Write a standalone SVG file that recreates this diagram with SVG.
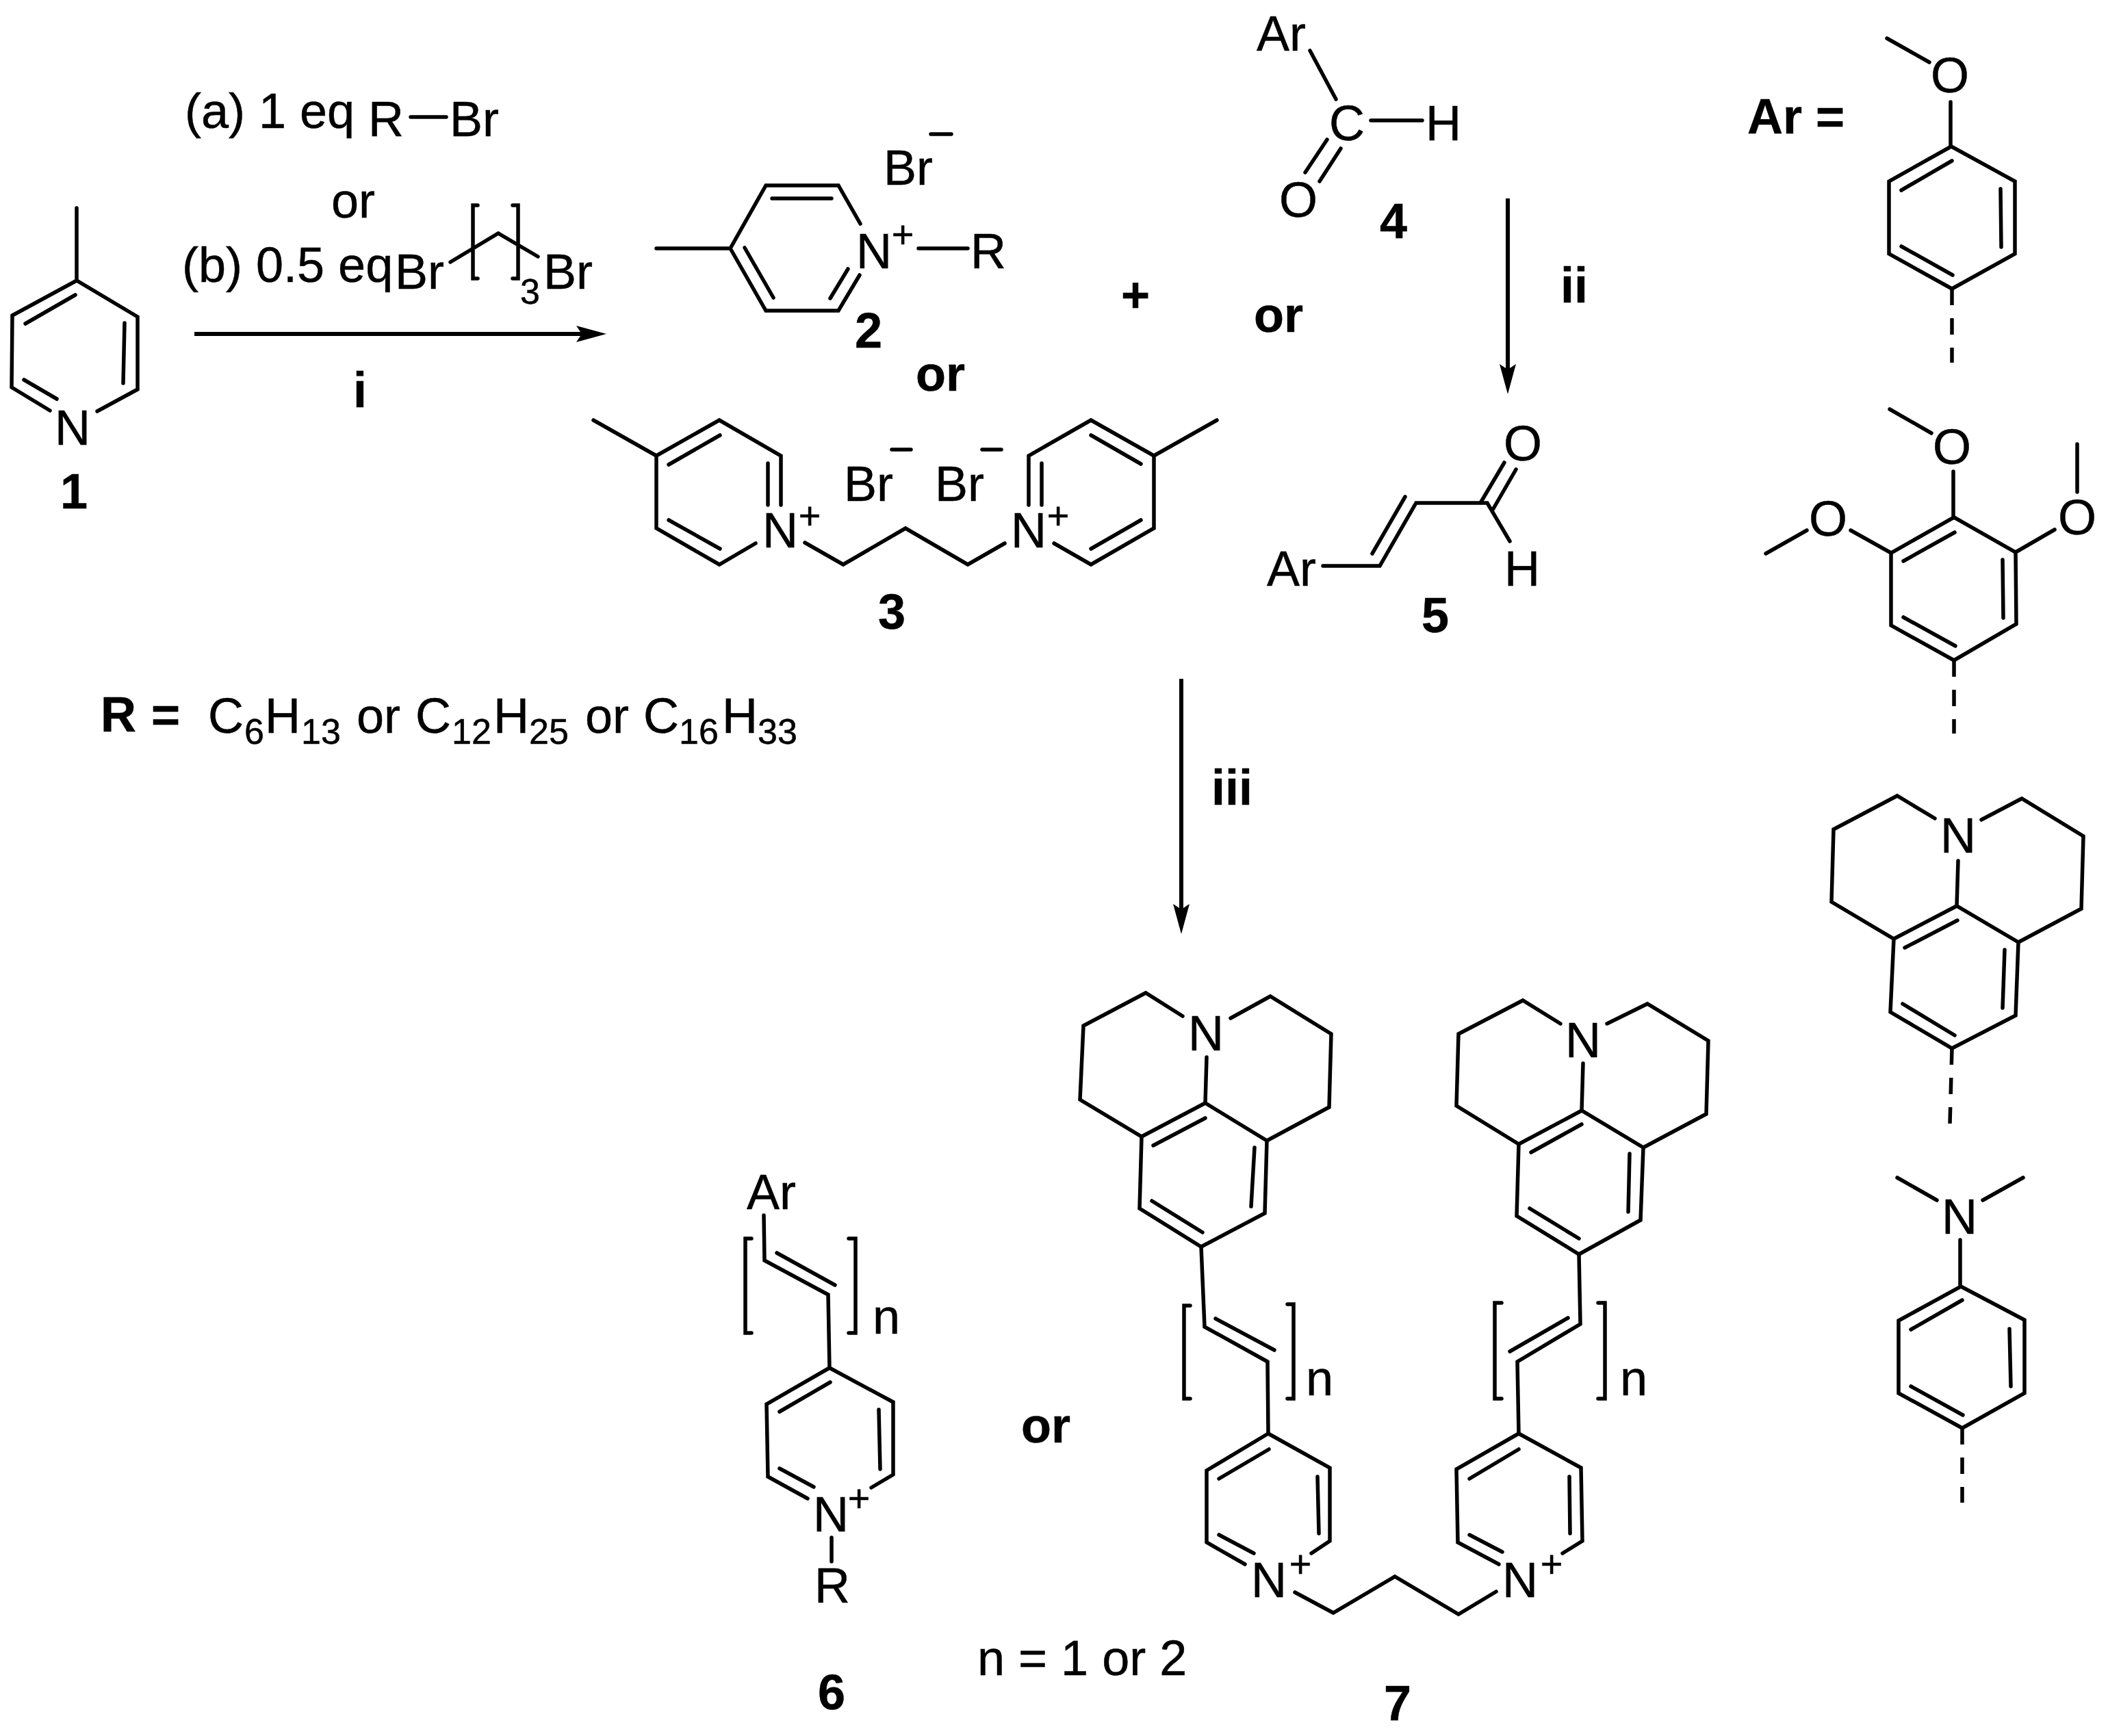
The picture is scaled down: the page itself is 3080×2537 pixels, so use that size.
<svg xmlns="http://www.w3.org/2000/svg" width="3080" height="2537" viewBox="0 0 3080 2537">
<style>
text{font-family:"Liberation Sans",Arial,sans-serif;font-size:72px;fill:#000;stroke:#000;stroke-width:.5}
.b{font-weight:bold}
.s{font-size:52px}
.p{font-size:56px;text-anchor:middle}
.m{text-anchor:middle}
path{fill:none;stroke:#000;stroke-width:5.5;stroke-linejoin:miter;stroke-linecap:round}
.d{stroke-dasharray:24 19;stroke-linecap:butt}
.a{stroke-width:6;stroke-linecap:butt;marker-end:url(#h)}
#h path{fill:#000;stroke:none}
</style>
<defs><marker id="h" viewBox="0 0 44 24" refX="8" refY="12" markerWidth="44" markerHeight="24" markerUnits="userSpaceOnUse" orient="auto"><path d="M44,12L0,0L8,12L0,24Z"/></marker></defs>
<rect width="3080" height="2537" fill="#fff"/>
<g id="connectors">
<path class="a" d="M284,488H850"/>
<path class="a" d="M2203,290V540"/>
<path class="a" d="M1726,992V1329"/>
</g>
<g id="compound-1">
<path d="M112,304V410M73,600L17,566L18,461L112,410L201,463V569L142,601M37,473L110,431M182,472L180,560M35,555L83,583"/>
<text x="80" y="650">N</text>
<text class="b m" x="108" y="743">1</text>
</g>
<g id="reagents">
<text x="270" y="187">(a) 1 eq</text>
<text x="538" y="199">R</text>
<path d="M600,171H652"/>
<text x="657" y="199">Br</text>
<text x="484" y="318">or</text>
<text x="266" y="412">(b) 0.5 eq</text>
<text x="577" y="422">Br</text>
<path d="M658,383L728,341L786,375M698,300H691V407H698M749,300H757V407H749"/>
<text class="s" x="760" y="444">3</text>
<text x="794" y="422">Br</text>
<text class="b m" x="526" y="595">i</text>
</g>
<g id="compound-2">
<path d="M959,363H1067L1119,271H1225L1257,327M1256,402L1225,454H1119L1067,363M1128,290H1215M1088,362L1130,435M1239,393L1213,436M1342,363H1414M1360,196H1390"/>
<text x="1251" y="392">N</text>
<text class="p" x="1319" y="362">+</text>
<text x="1418" y="392">R</text>
<text x="1291" y="270">Br</text>
<text class="b m" x="1269" y="508">2</text>
</g>
<text class="b m" x="1374" y="571">or</text>
<text class="b m" x="1659" y="456">+</text>
<text class="b m" x="1868" y="485">or</text>
<g id="compound-3">
<path d="M867,614L959,666L1051,614L1141,666V738M1104,794L1051,825L959,772V666M977,679L1052,636M1122,677V738M977,760L1052,802"/>
<path d="M1176,793L1232,825L1323,772L1414,825L1468,794"/>
<path d="M1503,738V666L1594,614L1686,666L1778,614M1686,666V772L1594,825L1540,794M1522,677V738M1594,636L1667,678M1594,802L1667,760"/>
<path d="M1303,657H1331M1435,657H1463"/>
<text x="1114" y="800">N</text>
<text class="p" x="1183" y="773">+</text>
<text x="1477" y="800">N</text>
<text class="p" x="1546" y="773">+</text>
<text x="1233" y="732">Br</text>
<text x="1366" y="732">Br</text>
<text class="b m" x="1303" y="919">3</text>
</g>
<g id="compound-4">
<text x="1836" y="74">Ar</text>
<path d="M1914,74L1952,145M2003,176H2078M1939,204L1907,252M1959,217L1928,265"/>
<text x="1942" y="205">C</text>
<text x="2083" y="205">H</text>
<text class="m" x="1897" y="317">O</text>
<text class="b m" x="2036" y="348">4</text>
</g>
<text class="b m" x="2300" y="442">ii</text>
<g id="compound-5">
<text x="1851" y="856">Ar</text>
<path d="M1933,827H2016L2069,735H2173L2206,791M2005,809L2053,726M2163,735L2198,676M2181,745L2215,686"/>
<text class="m" x="2225" y="673">O</text>
<text x="2198" y="856">H</text>
<text class="b m" x="2097" y="924">5</text>
</g>
<text class="b m" x="1800" y="1176">iii</text>
<g id="r-definition">
<text class="b" x="147" y="1069">R<tspan x="221">=</tspan></text>
<text y="1071"><tspan x="304">C</tspan><tspan class="s" x="357" y="1087">6</tspan><tspan x="387" y="1071">H</tspan><tspan class="s" x="440" y="1087">13</tspan><tspan x="521" y="1071">or</tspan><tspan x="607">C</tspan><tspan class="s" x="660" y="1087">12</tspan><tspan x="721" y="1071">H</tspan><tspan class="s" x="773" y="1087">25</tspan><tspan x="855" y="1071">or</tspan><tspan x="940">C</tspan><tspan class="s" x="992" y="1087">16</tspan><tspan x="1055" y="1071">H</tspan><tspan class="s" x="1107" y="1087">33</tspan></text>
</g>
<g id="ar-definition">
<text class="b" x="2553" y="195">Ar =</text>
</g>
<g id="ar-methoxy">
<path d="M2757,56L2819,91M2850,149V214"/>
<text class="m" x="2849" y="135">O</text>
<path d="M2851,214L2944,265V371L2852,422L2760,371V265ZM2778,278L2852,235M2923,276L2924,361M2778,360L2853,402"/>
<path class="d" d="M2852,422V530"/>
</g>
<g id="ar-trimethoxy">
<path d="M2761,598L2822,633M2854,689V756M2855,756L2945,807L2946,912L2855,965L2763,914V808ZM2781,820L2856,778M2926,818L2927,903M2781,902L2857,944M2704,775L2763,808M2580,809L2640,775M2945,807L3002,774M3035,649V719"/>
<text class="m" x="2852" y="678">O</text>
<text class="m" x="2671" y="783">O</text>
<text class="m" x="3035" y="781">O</text>
<path class="d" d="M2855,965V1072"/>
</g>
<g id="ar-julolidine">
<text class="m" x="2861" y="1246">N</text>
<path d="M2827,1196L2772,1163L2679,1212L2676,1318L2767,1372L2859,1324L2949,1377L2945,1484L2852,1532L2762,1479L2767,1372M2861,1258L2859,1324M2895,1198L2954,1167L3044,1222L3041,1328L2949,1377M2783,1385L2860,1345M2929,1388L2926,1473M2780,1467L2856,1513"/>
<path class="d" d="M2852,1532L2849,1642"/>
</g>
<g id="ar-dimethylaniline">
<text class="m" x="2863" y="1803">N</text>
<path d="M2772,1721L2830,1754M2897,1754L2956,1721M2864,1812V1880M2865,1880L2958,1929V2036L2867,2087L2774,2036V1930ZM2792,1943L2867,1900M2936,1942L2938,2026M2792,2026L2868,2068"/>
<path class="d" d="M2867,2087V2196"/>
</g>
<g id="compound-6">
<text x="1091" y="1767">Ar</text>
<path d="M1116,1776L1117,1842L1210,1892L1212,1999L1305,2049V2155L1273,2174M1212,1999L1120,2052L1122,2158L1180,2190M1135,1831L1220,1878M1139,2063L1213,2020M1284,2060L1286,2147M1139,2146L1189,2173M1215,2247V2282"/>
<path d="M1098,1810H1089V1948H1098M1240,1810H1250V1948H1240"/>
<text x="1275" y="1949">n</text>
<text x="1188" y="2238">N</text>
<text class="p" x="1255" y="2209">+</text>
<text x="1190" y="2342">R</text>
<text class="b m" x="1215" y="2498">6</text>
</g>
<text class="b m" x="1528" y="2108">or</text>
<text x="1428" y="2448">n = 1 or 2</text>
<g id="compound-7">
<path d="M1728,1485L1674,1451L1583,1499L1578,1607L1668,1661L1761,1612L1851,1667L1848,1773L1755,1822L1665,1766L1668,1661M1763,1545L1761,1612M1798,1488L1856,1456L1945,1511L1942,1618L1851,1667M1685,1674L1761,1634M1833,1677L1828,1763M1683,1755L1757,1801"/>
<text x="1736" y="1535">N</text>
<path d="M1755,1822L1760,1939L1852,1990L1853,2095M1776,1927L1862,1973M1739,1908H1730V2044H1739M1881,1906H1890V2044H1881"/>
<text x="1908" y="2039">n</text>
<path d="M1853,2095L1943,2145V2252L1916,2270M1853,2095L1763,2149V2254L1819,2286M1781,2161L1854,2118M1925,2158L1927,2241M1781,2243L1832,2270"/>
<text x="1828" y="2334">N</text>
<text class="p" x="1900" y="2305">+</text>
<path d="M1892,2327L1948,2357L2038,2304L2131,2359L2186,2326"/>
<text x="2195" y="2334">N</text>
<text class="p" x="2267" y="2305">+</text>
<path d="M2219,2095L2310,2145L2312,2252L2283,2270M2219,2095L2128,2147L2130,2254L2190,2286M2147,2161L2219,2118M2293,2158L2294,2241M2147,2243L2195,2268"/>
<path d="M2219,2095L2217,1990L2309,1935L2307,1833M2206,1975L2291,1926M2194,1904H2184V2044H2194M2335,1904H2345V2044H2335"/>
<text x="2367" y="2039">n</text>
<path d="M2307,1833L2397,1783L2401,1677L2311,1623L2219,1672L2216,1777ZM2237,1684L2311,1643M2381,1686L2379,1771M2235,1766L2307,1810"/>
<text x="2287" y="1545">N</text>
<path d="M2313,1554L2311,1623M2280,1496L2225,1462L2131,1511L2128,1616L2219,1672M2348,1496L2407,1467L2496,1521L2493,1628L2401,1677"/>
<text class="b m" x="2042" y="2514">7</text>
</g>
</svg>
